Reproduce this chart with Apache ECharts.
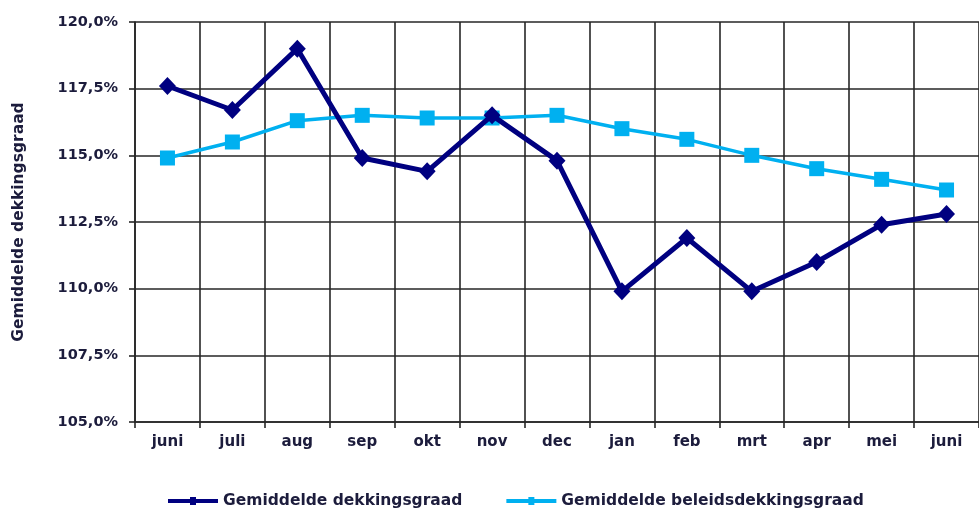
<!DOCTYPE html>
<html>
<head>
<meta charset="utf-8">
<script src="https://cdn.jsdelivr.net/npm/echarts@6/dist/echarts.min.js"></script>
<style>
  html, body { margin: 0; padding: 0; background: #ffffff; }
  #chart { width: 979px; height: 508px; }
</style>
</head>
<body>
<div id="chart"></div>
<script>
// Months (June to June)
const months = ['juni', 'juli', 'aug', 'sep', 'okt', 'nov', 'dec', 'jan', 'feb', 'mrt', 'apr', 'mei', 'juni'];

// Average funding ratio (%)
const dekkingsgraad = [117.6, 116.7, 119.0, 114.9, 114.4, 116.5, 114.8, 109.9, 111.9, 109.9, 111.0, 112.4, 112.8];

// Average policy funding ratio (%)
const beleidsdekkingsgraad = [114.9, 115.5, 116.3, 116.5, 116.4, 116.4, 116.5, 116.0, 115.6, 115.0, 114.5, 114.1, 113.7];

// Value axis range
const yMin = 105, yMax = 120, yStep = 2.5;

const textColor = '#1c1c3c';
const gridColor = '#262626';
const font = 'DejaVu Sans';

// Legend key: thick line with a small marker block in the middle
const legendIcon = 'path://M0,2 L22,2 L22,0 L28,0 L28,2 L50,2 L50,6 L28,6 L28,8 L22,8 L22,6 L0,6 Z';

const chart = echarts.init(document.getElementById('chart'), null, { renderer: 'canvas' });

chart.setOption({
  backgroundColor: '#ffffff',
  animation: false,
  grid: { left: 135, top: 22, right: -5, bottom: 86, containLabel: false },
  legend: {
    left: 163,
    top: 488,
    itemWidth: 50,
    itemHeight: 8,
    itemGap: 44,
    icon: legendIcon,
    textStyle: { color: textColor, fontFamily: font, fontWeight: 'bold', fontSize: 15.5 },
    data: ['Gemiddelde dekkingsgraad', 'Gemiddelde beleidsdekkingsgraad']
  },
  xAxis: {
    type: 'category',
    data: months,
    boundaryGap: true,
    axisLine: { show: true, lineStyle: { color: gridColor, width: 1.6 } },
    axisTick: { show: true, interval: 0, length: 6, lineStyle: { color: gridColor, width: 1.6 } },
    axisLabel: { interval: 0, margin: 13, color: textColor, fontFamily: font, fontWeight: 'bold', fontSize: 15 },
    splitLine: { show: true, interval: 0, lineStyle: { color: gridColor, width: 1.6 } }
  },
  yAxis: {
    type: 'value',
    min: yMin,
    max: yMax,
    interval: yStep,
    name: 'Gemiddelde dekkingsgraad',
    nameLocation: 'middle',
    nameGap: 108,
    nameTextStyle: { color: textColor, fontFamily: font, fontWeight: 'bold', fontSize: 15.5 },
    axisLine: { show: true, lineStyle: { color: gridColor, width: 1.6 } },
    axisTick: { show: true, length: 6, lineStyle: { color: gridColor, width: 1.6 } },
    axisLabel: {
      margin: 17,
      color: textColor,
      fontFamily: font,
      fontWeight: 'bold',
      fontSize: 14.5,
      formatter: v => v.toFixed(1).replace('.', ',') + '%'
    },
    splitLine: { show: true, lineStyle: { color: gridColor, width: 1.6 } }
  },
  series: [
    {
      name: 'Gemiddelde beleidsdekkingsgraad',
      type: 'line',
      data: beleidsdekkingsgraad,
      symbol: 'rect',
      symbolSize: 15,
      lineStyle: { color: '#00b0f0', width: 3.5 },
      itemStyle: { color: '#00b0f0' },
      z: 3
    },
    {
      name: 'Gemiddelde dekkingsgraad',
      type: 'line',
      data: dekkingsgraad,
      symbol: 'diamond',
      symbolSize: [17, 18],
      lineStyle: { color: '#000080', width: 5 },
      itemStyle: { color: '#000080' },
      z: 4
    }
  ]
});
</script>
</body>
</html>
